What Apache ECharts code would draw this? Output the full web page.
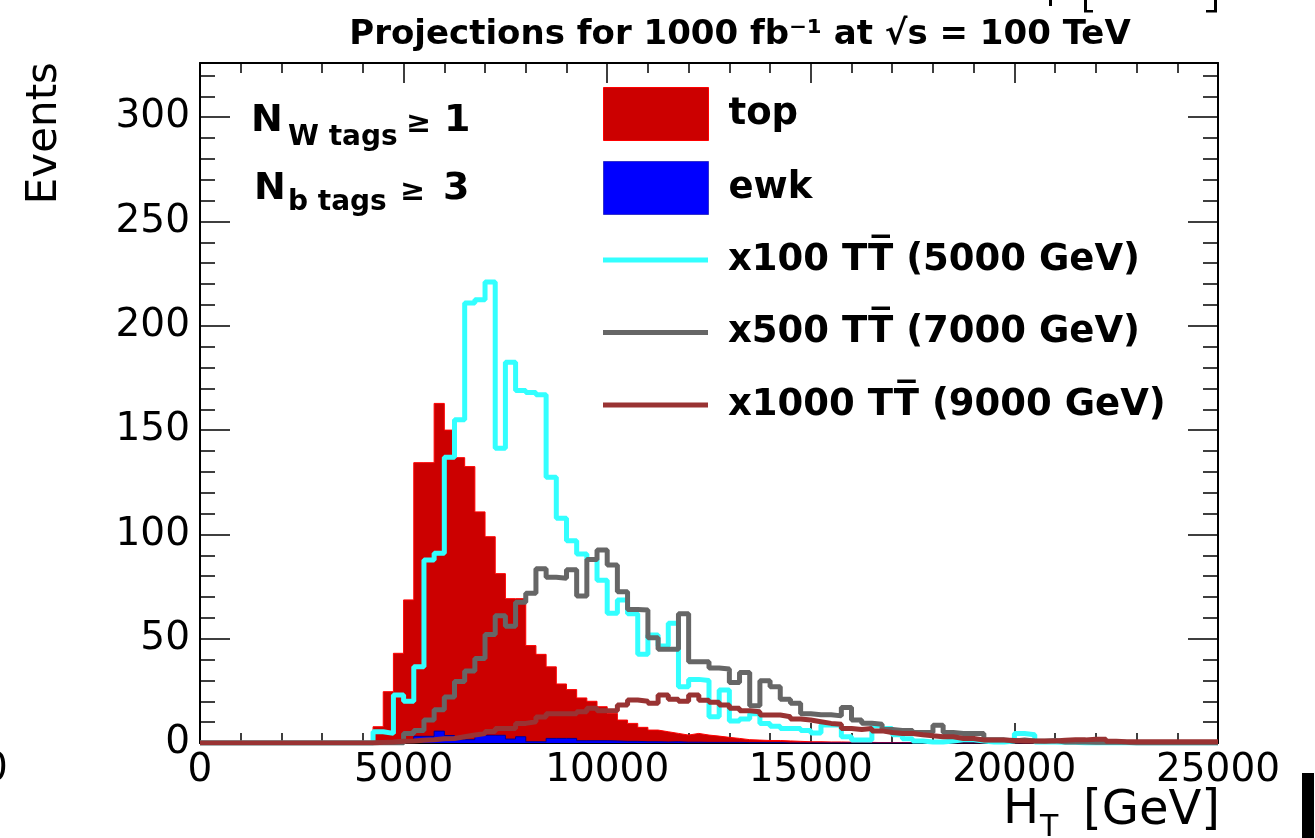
<!DOCTYPE html>
<html>
<head>
<meta charset="utf-8">
<title>HT projections</title>
<script src="https://cdn.jsdelivr.net/npm/echarts@6/dist/echarts.min.js"></script>
<style>
  html, body { margin: 0; padding: 0; background: #fff; }
  #chart { width: 1315px; height: 838px; }
</style>
</head>
<body>
<div id="chart"></div>
<script>
// 100 bins of 250 GeV, 0 - 25000 GeV
const BIN_WIDTH = 250;
const X_MAX = 25000;
const Y_MAX = 326;

const topBkg = [
  0, 0, 0, 0, 0, 0, 0, 0, 0, 0,
  0, 0, 0, 0, 0, 0, 0, 7.8, 24.6, 43,
  68.6, 134.4, 134.4, 162.8, 150, 136.8, 132.5, 110.8, 98.9, 81.2,
  69.2, 69.2, 46.7, 42.5, 36.5, 28.3, 25.6, 21.6, 20, 17.4,
  14.2, 11, 9.4, 7.5, 6.2, 5.4, 4.6, 3.8, 4.6, 3.8,
  3.3, 2.7, 2.2, 1.6, 1.4, 1.2, 1.2, 1.0, 0.8, 0.6,
  0.6, 0.5, 0.5, 0.4, 0.4, 0.3, 0.2, 0.2, 0.2, 0.2,
  0.2, 0, 0, 0, 0, 0, 0, 0, 0, 0,
  0, 0, 0, 0, 0, 0, 0, 0, 0, 0,
  0, 0, 0, 0, 0, 0, 0, 0, 0, 0
];

const ewkBkg = [
  0, 0, 0, 0, 0, 0, 0, 0, 0, 0,
  0, 0, 0, 0, 0, 0, 0, 0, 0.3, 0.5,
  1.0, 3.2, 3.2, 5.7, 3.6, 1.6, 1.6, 3.7, 3.7, 3.7,
  1.9, 3.0, 0.6, 0.6, 2.2, 2.2, 2.2, 1.1, 1.1, 1.1,
  1.0, 0.8, 0.8, 0.6, 0.6, 0.5, 0.6, 0.4, 0.4, 0.3,
  0.3, 0.3, 0.3, 0.2, 0.2, 0.2, 0.2, 0, 0, 0,
  0, 0, 0, 0, 0, 0, 0, 0, 0, 0,
  0, 0, 0, 0, 0, 0, 0, 0, 0, 0,
  0, 0, 0, 0, 0, 0, 0, 0, 0, 0,
  0, 0, 0, 0, 0, 0, 0, 0, 0, 0
];

// signal x100, M = 5000 GeV
const sig5000 = [
  0, 0, 0, 0, 0, 0, 0, 0, 0, 0,
  0, 0, 0, 0, 0, 0, 0, 5.4, 4.6, 23,
  20, 36.6, 87.7, 91, 137, 155, 211, 212.5, 221, 141.3,
  182.5, 169, 168, 167, 127.4, 107.7, 97, 90.6, 88, 78,
  62.2, 68.5, 62, 42.5, 51.8, 46.5, 57.4, 27, 30.5, 30,
  12.6, 25.4, 10.5, 11.5, 14, 9.4, 8, 7, 7, 6,
  4.8, 8.6, 8.6, 3, 1.4, 1.4, 8.3, 7, 4, 2,
  1, 0.5, 0.5, 1, 1.5, 1.5, 1, 0.5, 0.5, 1,
  4.6, 4, 0.5, 0.5, 0.3, 0.3, 0, 0, 0, 0,
  0, 0, 0, 0, 0, 0, 0, 0, 0, 0
];

// signal x500, M = 7000 GeV
const sig7000 = [
  0, 0, 0, 0, 0, 0, 0, 0, 0, 0,
  0, 0, 0, 0, 0, 0, 0, 0, 0, 0,
  4.6, 6, 11, 16, 22, 29.5, 34.5, 40.5, 52, 61,
  56, 67.5, 71.8, 83.5, 79.5, 79, 83, 70.5, 88, 92.5,
  85.3, 72.5, 64, 63.8, 50.5, 45, 45, 62, 39, 39,
  36, 35.5, 29, 33.8, 17.8, 29.8, 27, 21, 19, 14,
  13.5, 13.5, 13, 17, 11, 9.5, 9, 6.5, 6, 6,
  5, 5, 8.5, 5, 4.6, 4.6, 4.5, 1.5, 1.5, 1,
  1.4, 1, 0.8, 1.2, 0.5, 0.5, 0.5, 0.3, 0.3, 0.3,
  0.3, 0, 0, 0, 0, 0, 0, 0, 0, 0
];

// signal x1000, M = 9000 GeV
const sig9000 = [
  0, 0, 0, 0, 0, 0, 0, 0, 0, 0,
  0, 0, 0, 0, 0, 0, 0, 0.3, 0.5, 0.8,
  1, 1.3, 1.6, 2, 2.2, 3, 3.8, 4.5, 5.5, 7,
  7, 9.4, 10.2, 12.5, 14, 14, 14, 15, 16.6, 15.5,
  15.5, 18.2, 20.6, 20, 19, 23, 21, 20, 23, 20.5,
  19.5, 18.2, 16.6, 15.5, 15, 13.4, 13.4, 12.6, 11.5, 11,
  10.2, 9.4, 9, 7, 6.5, 7, 5.8, 5, 4.6, 4.6,
  4, 3.5, 3, 3, 2.2, 2.2, 1.4, 1.4, 1.4, 1.2,
  1, 1, 1, 1, 1.3, 1.5, 1.5, 1.8, 1.8, 0.8,
  0.6, 0.6, 0.6, 0.6, 0.6, 0.6, 0.6, 0.6, 0.6, 0.6
];

const NAME_TOP = 'top';
const NAME_EWK = 'ewk';
const NAME_S5 = 'x100 TT\u0305 (5000 GeV)';
const NAME_S7 = 'x500 TT\u0305 (7000 GeV)';
const NAME_S9 = 'x1000 TT\u0305 (9000 GeV)';

const FONT = "'DejaVu Sans', sans-serif";

// histogram -> step points at the low edge of each bin, plus the last upper edge
const toSteps = (values) => {
  const pts = values.map((v, i) => [i * BIN_WIDTH, v]);
  pts.push([values.length * BIN_WIDTH, values[values.length - 1]]);
  return pts;
};

const histLine = (name, values, color, width) => ({
  name: name,
  type: 'line',
  step: 'end',
  symbol: 'none',
  color: color,
  lineStyle: { color: color, width: width },
  data: toSteps(values)
});

const histFill = (name, values, fill, edge) => ({
  name: name,
  type: 'line',
  step: 'end',
  symbol: 'none',
  color: fill,
  lineStyle: { color: edge, width: 1 },
  areaStyle: { color: fill, opacity: 1 },
  data: toSteps(values)
});

const xAxisBase = (position, showLabel) => ({
  type: 'value',
  position: position,
  min: 0,
  max: X_MAX,
  interval: 5000,
  axisLine: { show: true, onZero: false, lineStyle: { color: '#000', width: 2 } },
  axisTick: { show: true, inside: true, length: 20, lineStyle: { color: '#000', width: 1.5 } },
  minorTick: { show: true, splitNumber: 5, length: 10, lineStyle: { color: '#000', width: 1.5 } },
  splitLine: { show: false },
  minorSplitLine: { show: false },
  axisLabel: {
    show: showLabel,
    formatter: (v) => String(v),
    fontFamily: FONT,
    fontSize: 39,
    color: '#000',
    margin: 8
  }
});

const yAxisBase = (position, interval, tickLen, showLine, showLabel) => ({
  type: 'value',
  position: position,
  min: 0,
  max: Y_MAX,
  interval: interval,
  axisLine: { show: showLine, onZero: false, lineStyle: { color: '#000', width: 2 } },
  axisTick: { show: true, inside: true, length: tickLen, lineStyle: { color: '#000', width: 1.5 } },
  splitLine: { show: false },
  axisLabel: {
    show: showLabel,
    showMaxLabel: false,
    formatter: (v) => String(v),
    fontFamily: FONT,
    fontSize: 39,
    color: '#000',
    margin: 10
  }
});

const txt = (text, x, y, size, bold, extra) => Object.assign({
  type: 'text',
  x: x,
  y: y,
  silent: true,
  style: {
    text: text,
    fill: '#000',
    fontFamily: FONT,
    fontSize: size,
    fontWeight: bold ? 'bold' : 'normal',
    align: 'left',
    verticalAlign: 'middle'
  }
}, extra || {});

const blk = (x, y, w, h) => ({
  type: 'rect', silent: true,
  shape: { x: x, y: y, width: w, height: h },
  style: { fill: '#000' }
});

const chart = echarts.init(document.getElementById('chart'));

chart.setOption({
  animation: false,
  backgroundColor: '#fff',
  textStyle: { fontFamily: FONT },
  title: {
    text: 'Projections for 1000 fb\u207B\u00B9 at \u221As = 100 TeV',
    left: 735,
    top: 13,
    textAlign: 'center',
    textStyle: { fontFamily: FONT, fontSize: 34, fontWeight: 'bold', color: '#000' }
  },
  grid: { left: 200, right: 97, top: 63, bottom: 95 },
  xAxis: [
    xAxisBase('bottom', true),
    xAxisBase('top', false)
  ],
  yAxis: [
    yAxisBase('left', 50, 30, true, true),
    yAxisBase('left', 10, 15, false, false),
    yAxisBase('right', 50, 30, true, false),
    yAxisBase('right', 10, 15, false, false)
  ],
  legend: [
    {
      orient: 'vertical',
      left: 603,
      top: 87,
      padding: 0,
      itemWidth: 105,
      itemHeight: 53,
      itemGap: 20,
      selectedMode: false,
      textStyle: { fontFamily: FONT, fontSize: 37, fontWeight: 'bold', color: '#000', padding: [0, 0, 0, 15] },
      data: [
        { name: NAME_TOP, icon: 'rect', itemStyle: { color: '#cc0000', borderColor: '#ff0000', borderWidth: 1 } },
        { name: NAME_EWK, icon: 'rect', itemStyle: { color: '#0000ff', borderColor: '#3333cc', borderWidth: 1 } }
      ]
    },
    {
      orient: 'vertical',
      left: 603,
      top: 240,
      padding: 0,
      itemWidth: 105,
      itemHeight: 5,
      itemGap: 32.5,
      selectedMode: false,
      textStyle: { fontFamily: FONT, fontSize: 37, fontWeight: 'bold', color: '#000', lineHeight: 40, padding: [0, 0, 0, 15] },
      data: [
        { name: NAME_S5, icon: 'rect', itemStyle: { color: '#33ffff', borderWidth: 0 } },
        { name: NAME_S7, icon: 'rect', itemStyle: { color: '#666666', borderWidth: 0 } },
        { name: NAME_S9, icon: 'rect', itemStyle: { color: '#993333', borderWidth: 0 } }
      ]
    }
  ],
  series: [
    histFill(NAME_TOP, topBkg, '#cc0000', '#ff0000'),
    histFill(NAME_EWK, ewkBkg, '#0000ff', '#000099'),
    histLine(NAME_S5, sig5000, '#33ffff', 5),
    histLine(NAME_S7, sig7000, '#666666', 5),
    histLine(NAME_S9, sig9000, '#993333', 5)
  ],
  graphic: [
    // selection labels
    txt('N', 251, 121, 38, true),
    txt('W tags', 288, 138, 28, true),
    txt('\u2265', 406, 124, 30, true),
    txt('1', 444, 121, 38, true),
    txt('N', 254, 189, 38, true),
    txt('b tags', 288, 203, 28, true),
    txt('\u2265', 400, 192, 30, true),
    txt('3', 443, 189, 38, true),
    // axis titles
    txt('Events', 45, 62, 42, false, { rotation: Math.PI / 2, style: {
      text: 'Events', fill: '#000', fontFamily: FONT, fontSize: 42, align: 'right', verticalAlign: 'middle'
    } }),
    txt('H', 1003, 811, 48, false),
    txt('T', 1040, 828, 30, false),
    txt('[GeV]', 1220, 812, 48, false, { style: {
      text: '[GeV]', fill: '#000', fontFamily: FONT, fontSize: 48, align: 'right', verticalAlign: 'middle'
    } }),
    // pieces of neighbouring panels cut by the crop
    txt('0', -17, 770, 39, false),
    blk(1302, 773, 12, 65),
    blk(1049, 0, 3, 6),
    blk(1084, 0, 3, 12),
    blk(1084, 10, 9, 2.5),
    blk(1214, 0, 3, 12),
    blk(1206, 10, 11, 2.5)
  ]
});
</script>
</body>
</html>
